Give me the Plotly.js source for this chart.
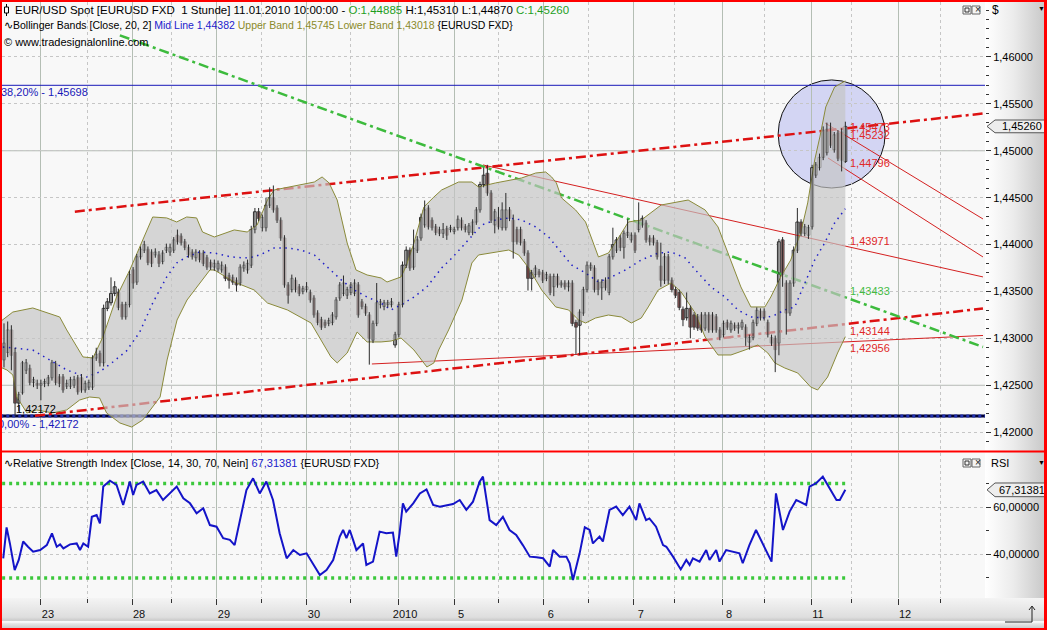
<!DOCTYPE html>
<html><head><meta charset="utf-8">
<script src="https://cdn.plot.ly/plotly-3.0.1.min.js"></script>
<style>
html,body{margin:0;padding:0;background:#fff;}
#wrap{position:relative;width:1047px;height:630px;overflow:hidden;
background:
 linear-gradient(to right,#ffffff 0%,#ececec 45%,#c6c6c6 100%) 985px 0/62px 598px no-repeat,
 linear-gradient(to bottom,#f4f4f4 0%,#dedede 60%,#cacaca 70%,#ffffff 74%,#e6e6e6 80%,#c0c0c0 100%) 0 598px/1047px 32px no-repeat,
 #ffffff;}
#chart{position:absolute;left:0;top:0;width:1047px;height:630px;}
#frame{position:absolute;left:0;top:0;width:1047px;height:630px;box-sizing:border-box;border:2px solid #ff0000;border-right-width:3px;pointer-events:none;}
</style></head>
<body><div id="wrap"><div id="chart"></div><div id="frame"></div></div>
<script>
// ---------- DATA (hourly EUR/USD bars, index 0 = first visible bar) ----------
const open = [
1.4277,1.4285,1.4309,1.4285,1.4231,1.4242,1.4266,1.4268,1.4253,1.4252,
1.4250,1.4252,1.4252,1.4258,1.4273,1.4259,1.4259,1.4249,1.4249,1.4250,
1.4258,1.4258,1.4245,1.4248,1.4248,1.4279,1.4284,1.4274,1.4332,1.4338,
1.4348,1.4349,1.4336,1.4323,1.4336,1.4373,1.4360,1.4387,1.4394,1.4395,
1.4392,1.4389,1.4389,1.4382,1.4394,1.4392,1.4394,1.4410,1.4409,1.4403,
1.4397,1.4392,1.4386,1.4391,1.4391,1.4386,1.4381,1.4376,1.4374,1.4373,
1.4376,1.4367,1.4365,1.4362,1.4359,1.4375,1.4373,1.4378,1.4416,1.4435,
1.4418,1.4418,1.4442,1.4450,1.4439,1.4426,1.4407,1.4357,1.4352,1.4362,
1.4355,1.4350,1.4352,1.4349,1.4343,1.4327,1.4320,1.4317,1.4316,1.4317,
1.4323,1.4343,1.4348,1.4346,1.4349,1.4348,1.4357,1.4339,1.4334,1.4325,
1.4298,1.4316,1.4336,1.4334,1.4336,1.4336,1.4293,1.4304,1.4336,1.4378,
1.4394,1.4376,1.4394,1.4407,1.4421,1.4439,1.4426,1.4419,1.4416,1.4412,
1.4417,1.4416,1.4414,1.4418,1.4426,1.4419,1.4413,1.4413,1.4424,1.4437,
1.4464,1.4476,1.4455,1.4421,1.4429,1.4418,1.4418,1.4437,1.4426,1.4416,
1.4416,1.4403,1.4391,1.4364,1.4368,1.4371,1.4370,1.4364,1.4366,1.4355,
1.4366,1.4357,1.4359,1.4355,1.4359,1.4317,1.4314,1.4327,1.4352,1.4375,
1.4375,1.4360,1.4354,1.4362,1.4349,1.4387,1.4394,1.4407,1.4397,1.4410,
1.4405,1.4410,1.4416,1.4421,1.4423,1.4407,1.4407,1.4402,1.4377,1.4362,
1.4387,1.4362,1.4352,1.4349,1.4331,1.4322,1.4332,1.4325,1.4323,1.4325,
1.4311,1.4325,1.4325,1.4323,1.4309,1.4304,1.4317,1.4309,1.4314,1.4311,
1.4312,1.4312,1.4296,1.4301,1.4316,1.4329,1.4329,1.4317,1.4301,1.4300,
1.4295,1.4405,1.4359,1.4327,1.4359,1.4394,1.4424,1.4412,1.4410,1.4419,
1.4474,1.4482,1.4493,1.4498,1.4524,1.4501,1.4519,1.4520,1.44885];
const high = [
1.4316,1.4318,1.4314,1.4290,1.4243,1.4276,1.4278,1.4272,1.4259,1.4256,
1.4256,1.4257,1.4261,1.4277,1.4276,1.4262,1.4262,1.4256,1.4259,1.4260,
1.4261,1.4262,1.4255,1.4256,1.4282,1.4290,1.4287,1.4336,1.4343,1.4365,
1.4361,1.4353,1.4339,1.4339,1.4372,1.4376,1.4390,1.4398,1.4404,1.4398,
1.4395,1.4396,1.4393,1.4394,1.4401,1.4401,1.4408,1.4416,1.4412,1.4406,
1.4400,1.4395,1.4395,1.4394,1.4394,1.4389,1.4384,1.4384,1.4383,1.4382,
1.4379,1.4370,1.4368,1.4365,1.4379,1.4382,1.4384,1.4420,1.4439,1.4439,
1.4432,1.4450,1.4461,1.4463,1.4442,1.4429,1.4410,1.4360,1.4368,1.4365,
1.4358,1.4356,1.4360,1.4352,1.4346,1.4330,1.4323,1.4320,1.4322,1.4328,
1.4344,1.4360,1.4367,1.4355,1.4360,1.4363,1.4360,1.4342,1.4337,1.4328,
1.4319,1.4359,1.4342,1.4341,1.4341,1.4343,1.4307,1.4339,1.4382,1.4398,
1.4397,1.4416,1.4409,1.4433,1.4447,1.4442,1.4429,1.4422,1.4419,1.4423,
1.4420,1.4421,1.4419,1.4431,1.4429,1.4422,1.4423,1.4427,1.4440,1.4467,
1.4482,1.4485,1.4458,1.4438,1.4440,1.4445,1.4455,1.4440,1.4432,1.4419,
1.4419,1.4406,1.4394,1.4373,1.4378,1.4374,1.4373,1.4371,1.4369,1.4369,
1.4369,1.4362,1.4362,1.4362,1.4362,1.4320,1.4331,1.4355,1.4382,1.4381,
1.4378,1.4363,1.4363,1.4365,1.4390,1.4418,1.4408,1.4410,1.4415,1.4427,
1.4413,1.4413,1.4445,1.4431,1.4426,1.4410,1.4410,1.4405,1.4402,1.4391,
1.4390,1.4365,1.4355,1.4352,1.4334,1.4349,1.4335,1.4328,1.4326,1.4328,
1.4328,1.4328,1.4328,1.4326,1.4312,1.4319,1.4320,1.4319,1.4317,1.4317,
1.4320,1.4315,1.4304,1.4320,1.4333,1.4332,1.4332,1.4320,1.4304,1.4303,
1.4406,1.4408,1.4362,1.4362,1.4398,1.4439,1.4427,1.4422,1.4421,1.4485,
1.4488,1.4497,1.4526,1.4530,1.4530,1.4520,1.4522,1.4524,1.4531];
const low = [
1.4269,1.4280,1.4266,1.4217,1.4222,1.4240,1.4262,1.4250,1.4248,1.4246,
1.4234,1.4248,1.4249,1.4255,1.4250,1.4248,1.4242,1.4246,1.4246,1.4247,
1.4240,1.4242,1.4242,1.4245,1.4245,1.4276,1.4270,1.4270,1.4329,1.4335,
1.4345,1.4330,1.4320,1.4320,1.4333,1.4353,1.4357,1.4384,1.4391,1.4378,
1.4376,1.4386,1.4376,1.4379,1.4391,1.4388,1.4391,1.4400,1.4399,1.4394,
1.4386,1.4384,1.4382,1.4381,1.4377,1.4373,1.4373,1.4372,1.4371,1.4370,
1.4361,1.4353,1.4357,1.4350,1.4356,1.4371,1.4369,1.4375,1.4412,1.4425,
1.4414,1.4414,1.4439,1.4434,1.4423,1.4404,1.4354,1.4337,1.4349,1.4349,
1.4345,1.4347,1.4349,1.4338,1.4322,1.4314,1.4309,1.4311,1.4313,1.4314,
1.4320,1.4340,1.4345,1.4342,1.4346,1.4345,1.4322,1.4331,1.4324,1.4272,
1.4295,1.4313,1.4332,1.4330,1.4333,1.4333,1.4290,1.4301,1.4333,1.4375,
1.4372,1.4373,1.4391,1.4404,1.4418,1.4416,1.4415,1.4410,1.4409,1.4407,
1.4405,1.4413,1.4411,1.4415,1.4415,1.4413,1.4410,1.4410,1.4421,1.4434,
1.4461,1.4452,1.4423,1.4412,1.4416,1.4415,1.4415,1.4425,1.4385,1.4400,
1.4399,1.4388,1.4351,1.4351,1.4365,1.4365,1.4359,1.4361,1.4346,1.4345,
1.4354,1.4354,1.4352,1.4350,1.4313,1.4283,1.4282,1.4324,1.4349,1.4372,
1.4349,1.4346,1.4341,1.4351,1.4346,1.4384,1.4391,1.4393,1.4385,1.4407,
1.4402,1.4391,1.4413,1.4418,1.4402,1.4399,1.4399,1.4384,1.4355,1.4358,
1.4358,1.4349,1.4343,1.4330,1.4313,1.4319,1.4300,1.4309,1.4308,1.4306,
1.4308,1.4306,1.4306,1.4306,1.4298,1.4301,1.4309,1.4306,1.4308,1.4305,
1.4309,1.4292,1.4288,1.4298,1.4313,1.4319,1.4319,1.4301,1.4292,1.4264,
1.4282,1.4355,1.4304,1.4324,1.4355,1.4391,1.4409,1.4409,1.4406,1.4416,
1.4471,1.4479,1.4490,1.4495,1.4503,1.4498,1.4489,1.4478,1.4487];
const close = [
1.4295,1.4309,1.4282,1.4231,1.4240,1.4274,1.4274,1.4253,1.4256,1.4250,
1.4252,1.4254,1.4258,1.4274,1.4253,1.4252,1.4245,1.4252,1.4256,1.4256,
1.4243,1.4245,1.4252,1.4253,1.4279,1.4283,1.4274,1.4332,1.4339,1.4348,
1.4355,1.4333,1.4323,1.4336,1.4368,1.4359,1.4387,1.4395,1.4400,1.4381,
1.4380,1.4392,1.4380,1.4391,1.4397,1.4397,1.4405,1.4403,1.4402,1.4397,
1.4389,1.4387,1.4392,1.4384,1.4380,1.4376,1.4376,1.4380,1.4380,1.4378,
1.4364,1.4362,1.4360,1.4357,1.4376,1.4378,1.4380,1.4416,1.4435,1.4428,
1.4429,1.4442,1.4450,1.4437,1.4426,1.4407,1.4357,1.4346,1.4364,1.4352,
1.4348,1.4353,1.4355,1.4341,1.4325,1.4317,1.4312,1.4314,1.4319,1.4325,
1.4341,1.4357,1.4359,1.4352,1.4357,1.4359,1.4325,1.4334,1.4327,1.4300,
1.4316,1.4338,1.4339,1.4338,1.4338,1.4339,1.4304,1.4336,1.4378,1.4394,
1.4375,1.4396,1.4405,1.4429,1.4437,1.4419,1.4418,1.4413,1.4412,1.4416,
1.4410,1.4418,1.4416,1.4427,1.4418,1.4416,1.4420,1.4424,1.4437,1.4464,
1.4474,1.4455,1.4426,1.4435,1.4419,1.4437,1.4437,1.4428,1.4403,1.4403,
1.4402,1.4391,1.4364,1.4370,1.4375,1.4368,1.4362,1.4368,1.4349,1.4366,
1.4357,1.4359,1.4355,1.4359,1.4316,1.4312,1.4328,1.4352,1.4378,1.4378,
1.4352,1.4352,1.4360,1.4354,1.4387,1.4400,1.4405,1.4397,1.4412,1.4413,
1.4410,1.4394,1.4424,1.4428,1.4405,1.4403,1.4402,1.4387,1.4362,1.4387,
1.4362,1.4352,1.4346,1.4333,1.4320,1.4332,1.4312,1.4312,1.4311,1.4309,
1.4325,1.4309,1.4309,1.4309,1.4301,1.4316,1.4312,1.4316,1.4311,1.4314,
1.4317,1.4301,1.4301,1.4317,1.4330,1.4322,1.4322,1.4304,1.4295,1.4288,
1.4403,1.4368,1.4327,1.4359,1.4394,1.4424,1.4412,1.4419,1.4418,1.4482,
1.4485,1.4493,1.4522,1.4523,1.4506,1.4517,1.4492,1.4490,1.4526];

// Bollinger bands [bar, price]
const bbUpper = [[-1.1,1.43175],[2.4,1.43281],[7.8,1.43324],[15.1,1.43228],[17.0,1.43090],[21.4,1.42802],[24.1,1.42791],[26.8,1.43015],[30.5,1.43441],[34.1,1.43729],[37.6,1.44049],[40.3,1.44294],[44.1,1.44284],[46.8,1.44241],[49.5,1.44294],[52.2,1.44284],[53.8,1.44134],[57.0,1.44081],[62.4,1.44156],[65.9,1.44134],[68.6,1.44209],[71.4,1.44475],[73.2,1.44582],[79.5,1.44635],[84.1,1.44667],[86.2,1.44721],[88.1,1.44657],[90.3,1.44475],[93.0,1.44017],[95.4,1.43729],[98.4,1.43676],[102.2,1.43644],[103.8,1.43601],[107.6,1.43655],[108.9,1.43761],[111.1,1.44017],[113.8,1.44401],[116.5,1.44507],[118.6,1.44582],[123.2,1.44667],[126.8,1.44667],[128.6,1.44614],[133.2,1.44657],[140.3,1.44710],[144.1,1.44763],[146.8,1.44774],[148.4,1.44721],[149.7,1.44657],[151.1,1.44497],[154.9,1.44369],[157.6,1.44241],[161.1,1.43868],[163.8,1.43910],[166.5,1.44070],[169.2,1.44241],[172.7,1.44262],[178.1,1.44422],[185.4,1.44475],[190.0,1.44369],[193.5,1.44188],[197.0,1.43836],[199.7,1.43548],[202.4,1.43335],[206.2,1.43335],[207.8,1.43441],[210.5,1.43655],[213.2,1.43836],[215.9,1.44124],[217.8,1.44444],[219.7,1.44902],[221.1,1.45147],[222.7,1.45467],[225.1,1.45680],[228,1.45745]];
const bbLower = [[-1.1,1.42695],[0.8,1.42663],[2.4,1.42610],[3.5,1.42375],[6.2,1.42205],[8.9,1.42237],[13.2,1.42205],[17.0,1.42237],[20.5,1.42343],[23.2,1.42375],[25.9,1.42365],[27.8,1.42205],[31.4,1.42098],[34.6,1.42055],[37.6,1.42130],[40.3,1.42269],[42.3,1.42375],[44.2,1.42770],[46.9,1.43196],[49.6,1.43409],[53.1,1.43591],[55.8,1.43729],[57.0,1.43729],[62.4,1.43601],[67.8,1.43516],[71.4,1.43377],[76.8,1.43303],[83.2,1.43164],[85.9,1.42983],[88.6,1.42802],[90.3,1.42738],[93.0,1.42844],[95.7,1.43068],[98.4,1.42962],[102.2,1.42962],[104.9,1.42972],[107.6,1.43004],[111.1,1.42876],[114.6,1.42695],[116.5,1.42738],[117.8,1.42876],[120.5,1.43090],[124.1,1.43409],[126.8,1.43804],[128.6,1.43889],[133.2,1.43921],[136.8,1.43942],[139.5,1.43889],[142.2,1.43751],[145.7,1.43516],[149.5,1.43335],[153.0,1.43303],[155.7,1.43196],[157.6,1.43164],[160.3,1.43217],[163.8,1.43249],[167.3,1.43228],[170.0,1.43164],[172.7,1.43217],[174.6,1.43335],[177.3,1.43516],[180.8,1.43591],[183.5,1.43495],[187.3,1.43271],[190.0,1.43015],[193.5,1.42823],[197.0,1.42823],[200.8,1.42876],[204.3,1.42930],[207.0,1.42844],[208.9,1.42738],[211.6,1.42684],[215.1,1.42631],[218.6,1.42482],[220.5,1.42450],[223.2,1.42588],[225.9,1.42844],[228,1.43018]];
const bbMid = [[-0.3,1.42908],[7.8,1.42876],[12.4,1.42770],[17.0,1.42663],[22.4,1.42588],[25.9,1.42642],[29.5,1.42748],[33.2,1.42866],[36.8,1.43068],[40.3,1.43377],[44.1,1.43655],[46.8,1.43804],[49.5,1.43868],[53.0,1.43921],[57.0,1.43910],[61.6,1.43868],[65.1,1.43857],[67.8,1.43868],[70.5,1.43910],[73.2,1.43964],[76.8,1.43964],[80.5,1.43942],[84.1,1.43889],[87.6,1.43761],[91.4,1.43623],[94.9,1.43516],[98.4,1.43441],[102.2,1.43377],[104.9,1.43303],[107.6,1.43356],[111.1,1.43441],[114.6,1.43548],[118.6,1.43751],[121.4,1.43857],[124.1,1.43974],[126.8,1.44102],[129.5,1.44209],[133.2,1.44262],[136.8,1.44284],[140.3,1.44262],[144.1,1.44188],[147.6,1.44081],[151.1,1.43910],[153.8,1.43783],[157.6,1.43697],[161.1,1.43601],[164.6,1.43655],[168.4,1.43729],[172.7,1.43836],[177.3,1.43910],[180.8,1.43921],[184.6,1.43857],[188.1,1.43697],[191.6,1.43548],[195.4,1.43441],[198.9,1.43303],[202.4,1.43228],[206.2,1.43217],[208.9,1.43249],[211.6,1.43303],[214.3,1.43335],[217.0,1.43591],[219.7,1.43836],[222.4,1.44017],[225.1,1.44230],[228,1.44382]];

// RSI(14) [bar, value]
const rsiPoints = [[-0.2,38.3],[0.7,51.4],[1.6,44.6],[2.9,33.3],[4.0,37.6],[5.2,45.4],[6.5,43.2],[7.9,41.1],[9.8,41.8],[11.6,43.9],
[13.0,48.9],[14.3,43.2],[15.2,44.2],[16.1,42.5],[17.9,44.2],[19.7,44.6],[20.6,41.8],[21.5,44.6],[22.8,43.2],[23.8,55.9],
[25.1,56.6],[26.0,53.1],[26.9,68.7],[28.7,71.2],[30.5,69.4],[32.3,60.9],[34.1,70.8],[35.0,65.1],[35.9,69.4],[37.7,70.8],
[39.5,65.8],[41.3,67.2],[43.1,63.0],[45.0,65.8],[46.8,68.7],[48.6,63.7],[50.4,61.6],[52.2,57.4],[54.0,59.5],[55.8,52.4],
[57.6,51.7],[59.4,46.8],[61.2,46.1],[62.5,43.9],[63.9,54.5],[65.7,67.2],[67.5,72.2],[69.3,65.8],[71.1,70.8],[72.9,63.0],
[74.7,48.9],[76.6,38.3],[78.4,41.8],[80.2,39.7],[82.0,40.4],[83.8,35.5],[85.6,31.2],[87.4,33.3],[89.2,37.6],[91.0,47.5],
[91.9,50.3],[92.8,46.8],[93.7,50.3],[94.6,46.1],[95.5,41.8],[97.3,44.6],[98.2,35.5],[100.0,36.9],[101.8,49.6],[103.6,48.9],
[105.4,49.2],[106.3,39.0],[107.2,48.9],[108.1,61.6],[109.0,58.1],[110.9,61.6],[112.7,65.8],[114.5,67.5],[116.3,60.9],[118.1,60.2],
[119.9,60.9],[121.7,61.3],[123.5,63.0],[125.3,58.8],[127.1,62.3],[128.9,70.8],[129.8,72.9],[131.6,54.5],[133.4,52.4],[135.2,55.9],
[137.0,50.3],[138.8,48.2],[140.6,43.9],[142.5,39.0],[144.3,38.7],[146.1,38.3],[147.9,34.8],[148.8,41.8],[150.6,39.0],[152.4,39.0],
[153.3,36.2],[154.2,29.1],[156.0,40.4],[157.4,51.4],[158.7,50.3],[159.6,44.6],[160.5,46.1],[161.4,47.5],[162.3,45.4],[164.1,58.8],
[165.9,60.2],[167.7,56.6],[169.5,60.2],[171.3,54.5],[172.2,61.6],[174.0,54.5],[174.9,55.2],[176.7,51.7],[178.6,43.9],[179.5,43.2],
[181.3,39.0],[183.4,33.6],[184.9,37.6],[185.8,35.5],[186.7,38.3],[188.5,36.9],[190.3,41.8],[191.2,37.6],[193.0,41.8],[193.9,36.9],
[195.7,41.8],[197.5,41.1],[199.3,40.4],[200.2,36.2],[202.0,43.9],[203.8,50.3],[205.6,44.6],[208.0,36.9],[209.2,65.8],[211.1,50.3],
[212.9,58.1],[214.7,63.0],[215.6,62.3],[217.4,60.9],[218.3,68.7],[220.1,70.1],[221.9,72.9],[223.7,68.0],[225.6,63.0],[226.5,63.0],
[228,67.31381]];
const rsiUpperLevel = 70, rsiLowerLevel = 30;

// trend lines: [bar, price] end points
const channelUpper = [[19.2,1.44351],[265.3,1.45397]];
const channelLower = [[8.4,1.42175],[265.3,1.43318]];
const resistance   = [[129.8,1.44849],[265.3,1.43655]];
const support      = [[99.7,1.42727],[265.3,1.43031]];
const greenTrend   = [[31.4,1.46230],[265.3,1.42908]];
const shortChanA   = [[222.5,1.45296],[265.3,1.44273]];
const shortChanB   = [[223.3,1.44923],[265.3,1.43868]];
const fib382 = 1.45698, fib0 = 1.42172;
const highlightX = [209.8, 238.8], highlightY = [1.44603, 1.45755];

// level labels drawn at the right end of the data
const levelLabels = ['1,45473','1,45232','1,44796','1,43971','1,43433','1,43144','1,42956'];

// x axis: day starts and labels
const dayStarts = [10.0,34.7,57.7,82.1,106.8,122.0,146.3,170.7,194.6,218.7,242.3];
const dayLabels = ['23','28','29','30','2010','5','6','7','8','11','12'];
const midDays = [22.5,45.5,69.9,94.0,134.1,158.5,181.8,206.2,229.8,253.7];
const priceTicks = [1.42,1.425,1.43,1.435,1.44,1.445,1.45,1.455,1.46];

// ---------- LAYOUT HELPERS ----------
const PL=2, PR=985, PT=2, PB=598;
const px = x => (x-PL)/(PR-PL);
const py = y => (PB-y)/(PB-PT);
const F = 'Liberation Sans, Arial, sans-serif';
const fmt = (v,d) => v.toFixed(d).replace('.', ',');
const n = close.length;
const idx = close.map((_, i) => i);
const first = a => a.map(p => p[0]);
const second = a => a.map(p => p[1]);

const RED='#DD1111', DASHDOT='10px,4px,3px,4px';
const traces = [];
const line2 = (pts, color, width, dash, yaxis) => ({type:'scatter', mode:'lines', x:first(pts), y:second(pts), yaxis:yaxis||'y', line:{color, width, dash:dash||'solid'}, hoverinfo:'skip'});

traces.push(line2([[-1,fib382],[270,fib382]], '#1818B8', 1));
traces.push(line2([[-1,fib0],[270,fib0]], '#000033', 3));
traces.push(line2([[-1,fib0],[270,fib0]], '#2030B0', 3, '3px,3px'));
traces.push(line2(channelUpper, RED, 2.5, DASHDOT));
traces.push(line2(channelLower, RED, 2.5, DASHDOT));
traces.push(line2(resistance, '#D42020', 1));
traces.push(line2(support, '#D42020', 1));
traces.push(line2(shortChanA, '#D42020', 1));
traces.push(line2(shortChanB, '#D42020', 1));
traces.push(line2(greenTrend, '#3DBB3D', 2.5, DASHDOT));
const bandX = first(bbUpper).concat(first(bbLower).slice().reverse());
const bandY = second(bbUpper).concat(second(bbLower).slice().reverse());
traces.push({type:'scatter', mode:'lines', x:bandX, y:bandY, fill:'toself', fillcolor:'rgba(196,196,196,0.68)', line:{width:0, color:'rgba(0,0,0,0)'}, hoverinfo:'skip'});
traces.push(line2(bbUpper, '#8A8A3A', 1));
traces.push(line2(bbLower, '#8A8A3A', 1));
traces.push(line2(bbMid, '#2020C8', 1.5, '1.5px,4.5px'));
const wx = [], wy = [];
idx.forEach(i => { wx.push(i, i, null); wy.push(low[i], high[i], null); });
traces.push({type:'scatter', mode:'lines', x:wx, y:wy, line:{color:'#2A2A2A', width:1}, hoverinfo:'skip'});
const up = idx.map(i => close[i] >= open[i]);
traces.push({type:'bar', x:idx, base:idx.map(i => Math.min(open[i], close[i])),
  y:idx.map(i => Math.max(Math.abs(close[i]-open[i]), 0.00004)), width:0.8,
  marker:{color:up.map(u => u ? '#FFFFFF' : '#A35858'), line:{color:up.map(u => u ? '#2E2E2E' : '#5E5E5E'), width:1}},
  hoverinfo:'skip'});
traces.push(line2([[-0.5,rsiUpperLevel],[228.5,rsiUpperLevel]], '#3CC83C', 3.5, '3px,4px', 'y2'));
traces.push(line2([[-0.5,rsiLowerLevel],[228.5,rsiLowerLevel]], '#3CC83C', 3.5, '3px,4px', 'y2'));
traces.push(line2(rsiPoints, '#1414C8', 2, 'solid', 'y2'));

const shapes = [];
shapes.push({type:'circle', xref:'x', yref:'y', x0:highlightX[0], x1:highlightX[1], y0:highlightY[0], y1:highlightY[1], fillcolor:'#D3D5F3', line:{color:'#111', width:1}, layer:'below'});
[1.425, 1.45].forEach(v => shapes.push({type:'line', xref:'paper', yref:'y', x0:0, x1:1, y0:v, y1:v, line:{color:'#B4BCB4', width:1}, layer:'below'}));
shapes.push({type:'line', xref:'paper', yref:'paper', x0:px(0), x1:px(1047), y0:py(451.5), y1:py(451.5), line:{color:'#FF0000', width:2}});
const lastC = close[n-1], hh = 0.00068;
shapes.push({type:'path', xref:'paper', yref:'y', path:`M ${px(987)},${lastC} L ${px(995)},${lastC+hh} L ${px(1046)},${lastC+hh} L ${px(1046)},${lastC-hh} L ${px(995)},${lastC-hh} Z`, fillcolor:'#EDEDED', line:{color:'#555', width:1}});
const lastR = rsiPoints[rsiPoints.length-1][1], rh = 2.9;
shapes.push({type:'path', xref:'paper', yref:'y2', path:`M ${px(987)},${lastR} L ${px(995)},${lastR+rh} L ${px(1046)},${lastR+rh} L ${px(1046)},${lastR-rh} L ${px(995)},${lastR-rh} Z`, fillcolor:'#EDEDED', line:{color:'#555', width:1}});
[[6,14],[459,467]].forEach(([a,b]) => {
  shapes.push({type:'rect', xref:'paper', yref:'paper', x0:px(963), x1:px(971), y0:py(b), y1:py(a), fillcolor:'#F4F4F4', line:{color:'#666', width:1}});
  shapes.push({type:'rect', xref:'paper', yref:'paper', x0:px(972), x1:px(980), y0:py(b), y1:py(a), fillcolor:'#F4F4F4', line:{color:'#666', width:1}});
  shapes.push({type:'rect', xref:'paper', yref:'paper', x0:px(965), x1:px(969), y0:py(b-2), y1:py(a+2), line:{color:'#333', width:1}});
});
shapes.push({type:'line', xref:'paper', yref:'paper', x0:px(6.5), x1:px(6.5), y0:py(16), y1:py(4), line:{color:'#000', width:1}});
shapes.push({type:'rect', xref:'paper', yref:'paper', x0:px(4.5), x1:px(8.5), y0:py(13), y1:py(7), fillcolor:'#fff', line:{color:'#000', width:1}});
shapes.push({type:'path', xref:'paper', yref:'paper', path:`M ${px(1005)},${py(622)} L ${px(1032)},${py(622)} L ${px(1032)},${py(607)} M ${px(1029)},${py(610)} L ${px(1032)},${py(606)} L ${px(1035)},${py(610)}`, line:{color:'#222', width:1}});

const ann = [];
const txt = (x, y, text, o) => ann.push(Object.assign({xref:'paper', yref:'paper', x:px(x), y:py(y), text, showarrow:false, xanchor:'left', yanchor:'middle', font:{family:F, size:11, color:'#000'}}, o||{}));
const G='#1E9E1E', B='#2222CC', O='#8A8A2A';
txt(13, 10, `EUR/USD Spot [EURUSD FXD  1 Stunde] 11.01.2010 10:00:00 - <span style="color:${G}">O:${fmt(open[n-1],5)}</span> H:${fmt(high[n-1],5)} L:${fmt(low[n-1],5)} <span style="color:${G}">C:${fmt(close[n-1],5)}</span>`, {font:{family:F, size:11.5, color:'#000'}});
txt(2, 25, `∿Bollinger Bands [Close, 20, 2] <span style="color:${B}">Mid Line ${fmt(bbMid[bbMid.length-1][1],5)}</span> <span style="color:${O}">Upper Band ${fmt(bbUpper[bbUpper.length-1][1],5)} Lower Band ${fmt(bbLower[bbLower.length-1][1],5)}</span> {EURUSD FXD}`, {font:{family:F, size:10.5, color:'#000'}});
txt(2, 42, '© www.tradesignalonline.com');
txt(2, 463, `∿Relative Strength Index [Close, 14, 30, 70, Nein] <span style="color:${B}">${fmt(lastR,5)}</span> {EURUSD FXD}`);
txt(990, 10, '$', {font:{family:F, size:12, color:'#000'}});
txt(1036, 8, '▼', {font:{family:F, size:7, color:'#000'}});
txt(989, 463, 'RSI', {font:{family:F, size:11, color:'#000'}});
txt(1036, 462, '▼', {font:{family:F, size:7, color:'#000'}});
txt(973, 9.5, '×', {font:{family:F, size:10, color:'#222'}});
txt(973, 462.5, '×', {font:{family:F, size:10, color:'#222'}});
ann.push({xref:'paper', yref:'y', x:px(1000), y:lastC, text:fmt(lastC,5), showarrow:false, xanchor:'left', yanchor:'middle', font:{family:F, size:11, color:'#000'}});
ann.push({xref:'paper', yref:'y2', x:px(997), y:lastR, text:fmt(lastR,5), showarrow:false, xanchor:'left', yanchor:'middle', font:{family:F, size:11, color:'#000'}});
const labelY = [1.45257,1.45168,1.44867,1.44038,1.43505,1.43082,1.42898];
const labelC = ['#E02828','#E02828','#E02828','#E02828','#44BB44','#E02828','#E02828'];
levelLabels.forEach((t,i) => ann.push({xref:'x', yref:'y', x:228.6, y:labelY[i], text:t, showarrow:false, xanchor:'left', yanchor:'middle', font:{family:F, size:11, color:labelC[i]}}));
ann.push({xref:'x', yref:'y', x:2.6, y:1.42247, text:fmt(fib0,5), showarrow:false, xanchor:'left', yanchor:'middle', font:{family:F, size:11, color:'#000'}});
ann.push({xref:'x', yref:'y', x:23.4, y:1.45627, text:'38,20% - ' + fmt(fib382,5), showarrow:false, xanchor:'right', yanchor:'middle', font:{family:F, size:11, color:'#1818B8'}});
ann.push({xref:'x', yref:'y', x:21.0, y:1.42087, text:'0,00% - ' + fmt(fib0,5), showarrow:false, xanchor:'right', yanchor:'middle', font:{family:F, size:11, color:'#1818B8'}});

const layout = {
  width:1047, height:630, margin:{l:PL, r:1047-PR, t:PT, b:630-PB, pad:0},
  paper_bgcolor:'rgba(0,0,0,0)', plot_bgcolor:'#F8F8F8',
  separators:',.', showlegend:false, hovermode:false, bargap:0,
  xaxis:{range:[-0.54,265.85], anchor:'y2', domain:[0,1], tickmode:'array', tickvals:dayStarts, ticktext:dayLabels,
    ticks:'outside', ticklen:6, tickcolor:'#333', tickfont:{family:F, size:11, color:'#111'}, ticklabelshift:7,
    showgrid:true, gridcolor:'#B4BEB4', gridwidth:1, zeroline:false, showline:false,
    minor:{tickmode:'array', tickvals:midDays, ticks:'outside', ticklen:4, tickcolor:'#333', showgrid:true, gridcolor:'#C6C6C6', griddash:'dot'},
    fixedrange:true},
  yaxis:{domain:[py(450),1], range:[1.41810,1.46586], side:'right', anchor:'x', tickmode:'array', tickvals:priceTicks,
    tickformat:'.5f', ticks:'outside', ticklen:5, tickcolor:'#333', tickfont:{family:F, size:11, color:'#000'},
    showgrid:true, gridcolor:'#C6C6C6', griddash:'dot', zeroline:false, showline:false,
    minor:{dtick:0.001, tick0:1.42, ticks:'outside', ticklen:3, tickcolor:'#333', showgrid:false}, fixedrange:true},
  yaxis2:{domain:[0,py(453)], range:[21.48,82.92], side:'right', anchor:'x', tickmode:'array', tickvals:[40,60],
    tickformat:'.5f', ticks:'outside', ticklen:5, tickcolor:'#333', tickfont:{family:F, size:11, color:'#000'},
    showgrid:true, gridcolor:'#C6C6C6', griddash:'dot', zeroline:false, showline:false,
    minor:{tickmode:'array', tickvals:[30,50,70], ticks:'outside', ticklen:3, tickcolor:'#333', showgrid:false}, fixedrange:true},
  shapes, annotations:ann
};
Plotly.newPlot('chart', traces, layout, {displayModeBar:false, staticPlot:true});
</script>
</body></html>
